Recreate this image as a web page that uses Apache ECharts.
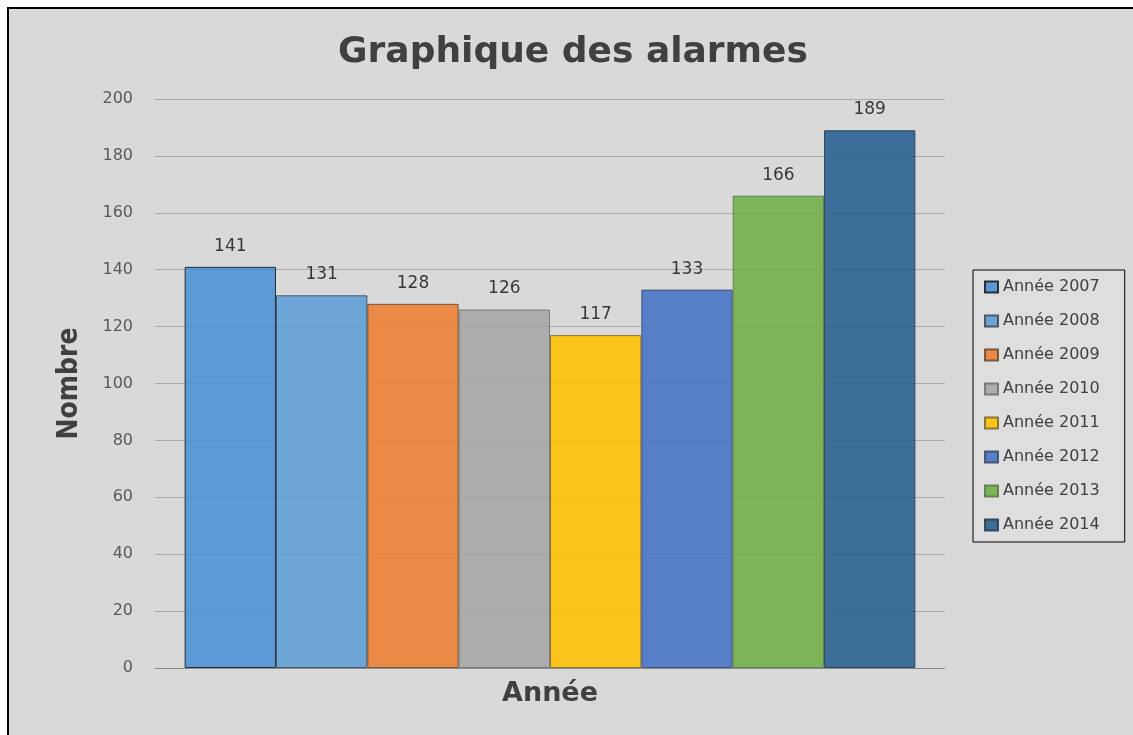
<!DOCTYPE html>
<html>
<head>
<meta charset="utf-8">
<script src="https://cdn.jsdelivr.net/npm/echarts@6/dist/echarts.min.js"></script>
<style>
  html, body { margin: 0; padding: 0; background: #fff; }
  #chart {
    position: absolute;
    left: 7px;
    top: 7px;
    width: 1130px;
    height: 732px;
    box-sizing: border-box;
    border: 2px solid #000;
    border-right: none;
    border-bottom: none;
    background: #d9d9d9;
  }
</style>
</head>
<body>
<div id="chart"></div>
<script>
// libellés des séries
var annees = ['Année 2007', 'Année 2008', 'Année 2009', 'Année 2010', 'Année 2011', 'Année 2012', 'Année 2013', 'Année 2014']
// nombre d'alarmes par année
var alarmes = [141, 131, 128, 126, 117, 133, 166, 189]
var couleurs = ['#4a90d6', '#5f9dd6', '#ed7d31', '#a5a5a5', '#ffc000', '#4472c4', '#70ad47', '#255e91']
var bordures = ['#1a1a1a', '#3a4a5a', '#6a4a30', '#707070', '#7a6a30', '#3a4a6a', '#5a7a4a', '#2a3a4a']

var police = "'DejaVu Sans', sans-serif"

var series = annees.map(function (nom, i) {
  return {
    name: nom,
    type: 'bar',
    data: [alarmes[i]],
    barGap: '0%',
    barCategoryGap: '7.5%',
    itemStyle: {
      color: couleurs[i],
      opacity: 0.88,
      borderColor: bordures[i],
      borderWidth: 1
    },
    label: {
      show: true,
      position: 'top',
      distance: 12,
      color: '#1f1f1f',
      fontSize: 17,
      fontFamily: police
    }
  }
})

var myChart = echarts.init(document.getElementById('chart'))
myChart.setOption({
  backgroundColor: '#d9d9d9',
  animation: false,
  textStyle: { fontFamily: police },
  title: {
    text: 'Graphique des alarmes',
    left: 'center',
    top: 21,
    textStyle: {
      fontSize: 36,
      fontWeight: 'bold',
      color: '#404040',
      fontFamily: police
    }
  },
  legend: {
    orient: 'vertical',
    left: 964,
    top: 261,
    data: annees,
    icon: 'rect',
    itemWidth: 13,
    itemHeight: 11,
    itemGap: 18,
    itemTextGap: 6,
    padding: [9, 25, 9, 11],
    borderColor: '#000',
    borderWidth: 1,
    backgroundColor: '#dedede',
    textStyle: {
      fontSize: 16,
      color: '#404040',
      fontFamily: police
    }
  },
  grid: {
    left: 146,
    right: 192,
    top: 90,
    bottom: 71
  },
  xAxis: {
    type: 'category',
    data: [''],
    name: 'Année',
    nameLocation: 'middle',
    nameGap: 12,
    nameTextStyle: {
      fontSize: 27,
      fontWeight: 'bold',
      color: '#404040',
      fontFamily: police
    },
    axisTick: { show: false },
    axisLabel: { show: false },
    axisLine: { lineStyle: { color: '#8c8c8c', width: 1 } }
  },
  yAxis: {
    type: 'value',
    min: 0,
    max: 200,
    interval: 20,
    name: 'Nombre',
    nameLocation: 'middle',
    nameGap: 71,
    nameTextStyle: {
      fontSize: 28,
      fontWeight: 'bold',
      color: '#404040',
      fontFamily: "'DejaVu Sans Condensed', 'DejaVu Sans', sans-serif"
    },
    axisLine: { show: false },
    axisTick: { show: false },
    axisLabel: {
      color: '#595959',
      fontSize: 16,
      margin: 22
    },
    splitLine: { lineStyle: { color: '#ababab', width: 1 } }
  },
  series: series
})
</script>
</body>
</html>
